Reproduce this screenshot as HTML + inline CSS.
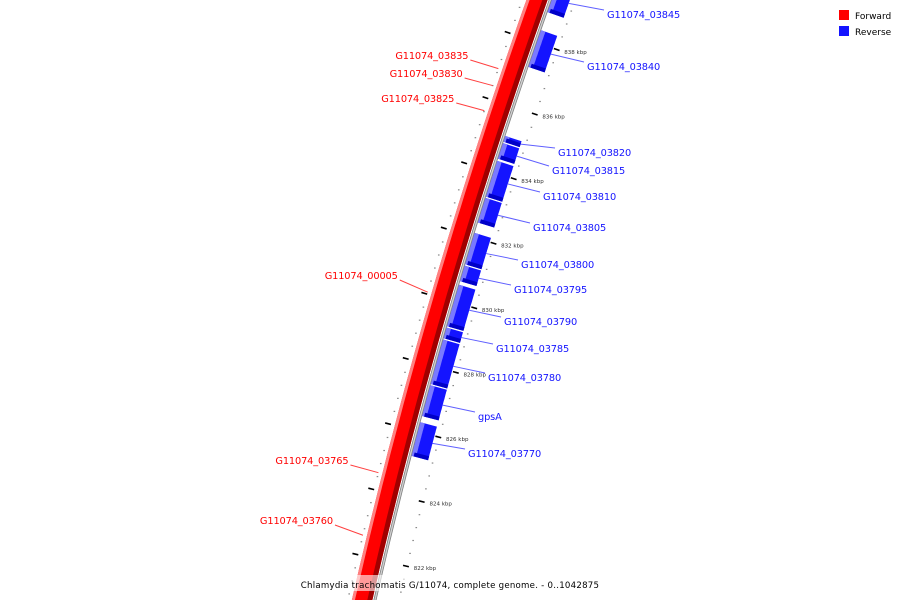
<!DOCTYPE html>
<html><head><meta charset="utf-8"><style>
html,body{margin:0;padding:0;background:#fff;width:900px;height:600px;overflow:hidden}
svg{display:block;font-family:"DejaVu Sans","Liberation Sans",sans-serif}
</style></head><body>
<svg id="map" width="900" height="600" viewBox="0 0 900 600" xmlns="http://www.w3.org/2000/svg" overflow="hidden">
<defs><clipPath id="frame"><rect x="0" y="0" width="900" height="600"/></clipPath></defs>
<g clip-path="url(#frame)">
<g id="backbone"></g>
<g id="ticks"></g>
<g id="genes"></g>
<g id="labels"></g>
<g>
<rect x="839" y="10" width="10" height="10" fill="#ff0000"/>
<text x="855" y="19" font-size="9" fill="#000">Forward</text>
<rect x="839" y="26" width="10" height="10" fill="#1414ff"/>
<text x="855" y="35" font-size="9" fill="#000">Reverse</text>
</g>
<rect x="296" y="575" width="308" height="16" fill="#fff" opacity="0.6"/>
<text x="450" y="588" font-size="8.6" text-anchor="middle" letter-spacing="0.25" fill="#000">Chlamydia trachomatis G/11074, complete genome. - 0..1042875</text>
</g>
</svg>
<script>
// data
const revGenes = ["G11074_03845","G11074_03840","G11074_03820","G11074_03815","G11074_03810","G11074_03805","G11074_03800","G11074_03795","G11074_03790","G11074_03785","G11074_03780","gpsA","G11074_03770"];
const revStart = [839.85,838.40,835.14,834.92,834.37,833.23,832.15,831.14,830.55,829.23,828.86,827.45,826.31];
const revEnd   = [838.92,837.23,834.92,834.40,833.23,832.43,831.14,830.62,829.23,828.86,827.45,826.46,825.23];
const fwdGenes = ["G11074_03835","G11074_03830","G11074_03825","G11074_00005","G11074_03765","G11074_03760"];
const fwdPos   = [836.92,836.40,835.63,830.06,824.52,822.60];
const tickKbp  = [838,836,834,832,830,828,826,824,822];

const NS="http://www.w3.org/2000/svg";
const pxPerKbp=32.5, kbp0=839.17;
function P(k){return (kbp0-k)*pxPerKbp;}
function cx(p){return 537-0.355*p+1.06e-4*p*p;}
function slope(p){return -0.355+2*1.06e-4*p;}
function pt(k,d){const p=P(k),s=slope(p),n=Math.sqrt(1+s*s);return [cx(p)+d/n,p-s*d/n];}
function mk(tag,attrs,parent){const e=document.createElementNS(NS,tag);for(const a in attrs)e.setAttribute(a,attrs[a]);parent.appendChild(e);return e;}
function band(k1,k2,d1,d2){const pts=[];const N=40;for(let i=0;i<=N;i++){pts.push(pt(k1+(k2-k1)*i/N,d1));}for(let i=N;i>=0;i--){pts.push(pt(k1+(k2-k1)*i/N,d2));}return pts.map(q=>q[0].toFixed(1)+","+q[1].toFixed(1)).join(" ");}

const bb=document.getElementById('backbone');
const kTop=kbp0+1, kBot=kbp0-19;
[[-10,10,'#ff0000'],[-10,-7,'#ff8080'],[5,10,'#a00000'],[11,14,'#808080'],[11.8,13.2,'#d0d0d0']].forEach((b,i)=>{
  const e=mk('polygon',{points:band(kTop,kBot,b[0],b[1]),fill:b[2]},bb);
  
  
});

// ticks
const tk=document.getElementById('ticks');
for(let k=840;k>=820;k-=0.4){
  const kk=Math.round(k*10)/10;
  const major=Math.abs(kk-Math.round(kk))<0.01 && Math.round(kk)%2===0;
  if(major){
    const a=pt(kk,-20),b=pt(kk,-14);
    const l=mk('line',{x1:a[0],y1:a[1],x2:b[0],y2:b[1],stroke:'#000','stroke-width':1.6},tk);
    
    
    const c=pt(kk,32),d=pt(kk,38);
    const l2=mk('line',{x1:c[0],y1:c[1],x2:d[0],y2:d[1],stroke:'#000','stroke-width':1.6},tk);
    
    
  } else {
    [-14,36].forEach(o=>{const q=pt(kk,o);
      const r=mk('rect',{x:q[0]-0.8,y:q[1]-0.6,width:1.6,height:1.2,fill:'#888'},tk);
      
      });
  }
}
tickKbp.forEach(k=>{const q=pt(k,43);
  const t=mk('text',{x:q[0],y:q[1]+2,'font-size':5.5,fill:'#333'},tk);
  t.textContent=k+' kbp';
  
  });

// reverse genes
const gg=document.getElementById('genes'), lg=document.getElementById('labels');
const revLabelX=[607,587,558,552,543,533,521,514,504,496,488,478,468];
const revLabelY=[14,66,152,170,196,227,264,289,321,348,377,416,453];
revGenes.forEach((name,i)=>{
  const a=revStart[i]-0.02,b=revEnd[i]+0.02;
  const g=mk('g',{},gg);
  
  
  mk('polygon',{points:band(a,b,14,31),fill:'#1414ff'},g);
  mk('polygon',{points:band(a,b,14,18.5),fill:'#7a7aff'},g);
  mk('polygon',{points:band(b+0.12,b,16,31),fill:'#0000c8'},g);
  const m=pt((a+b)/2,31);
  const l=mk('line',{x1:m[0],y1:m[1],x2:revLabelX[i]-3,y2:revLabelY[i]-4,stroke:'#6060ff','stroke-width':1},lg);
  
  
  const t=mk('text',{x:revLabelX[i],y:revLabelY[i]+4,'font-size':9.8,'letter-spacing':-0.15,fill:'#1414ff'},lg);
  t.textContent=name;
  
  
});
// forward labels
const fwdLabelY=[55,73,98,275,460,520];
fwdGenes.forEach((name,i)=>{
  const m=pt(fwdPos[i],-14);
  const lx=m[0]-28;
  const l=mk('line',{x1:m[0],y1:m[1],x2:lx,y2:fwdLabelY[i]+5,stroke:'#ff4040','stroke-width':1},lg);
  
  
  const t=mk('text',{x:lx-2,y:fwdLabelY[i]+4,'font-size':9.8,'letter-spacing':-0.15,fill:'#ff0000','text-anchor':'end'},lg);
  t.textContent=name;
  
  
});
</script>
</body></html>
